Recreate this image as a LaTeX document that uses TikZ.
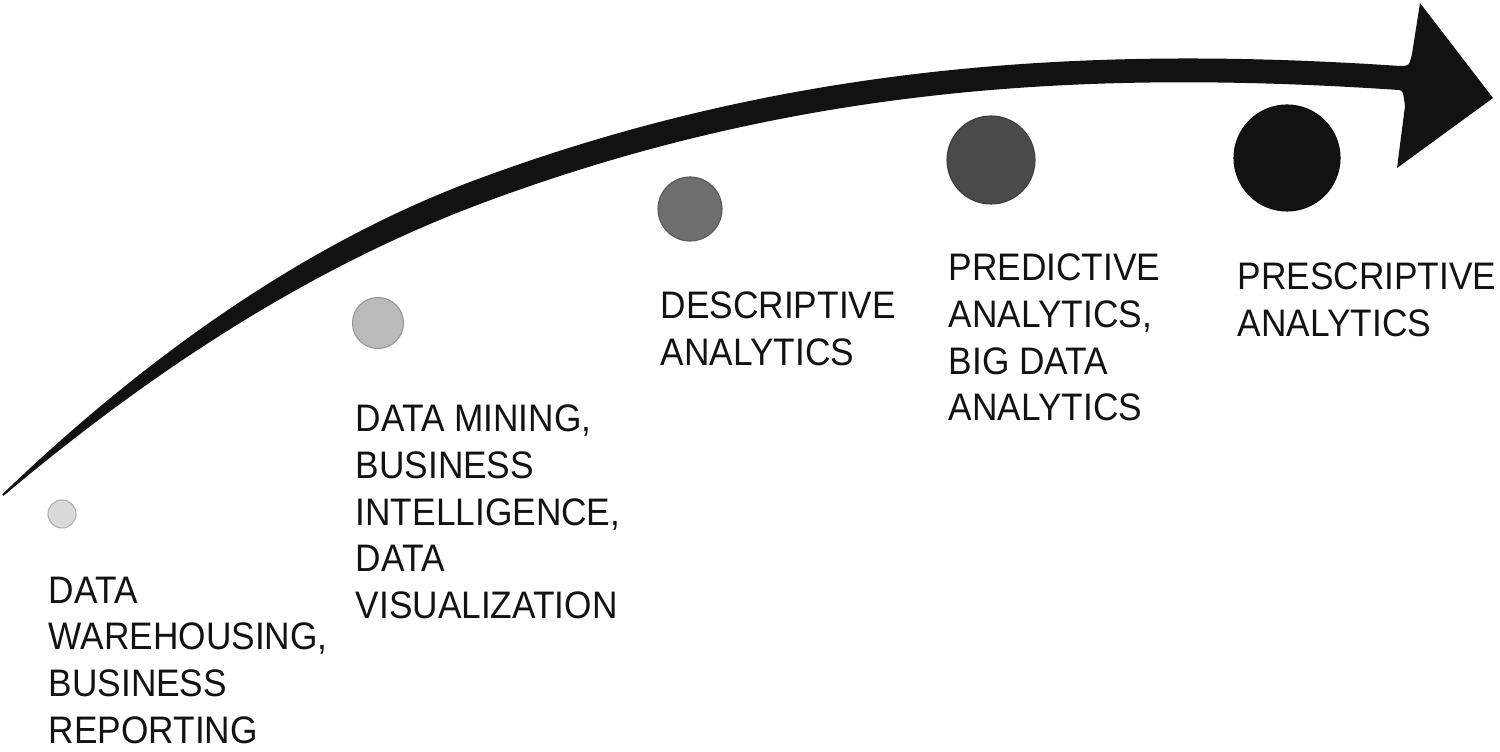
\documentclass[tikz,border=0pt]{standalone}
\usepackage{fontspec}
\setmainfont[FakeStretch=0.92]{Liberation Sans}
\colorlet{dotA}{black!15}
\colorlet{dotB}{black!27}
\colorlet{dotC}{black!57}
\colorlet{dotD}{black!71}
\colorlet{dotE}{black!93}
\begin{document}
\begin{tikzpicture}[x=0.01cm,y=-0.01cm,
    dot/.style={circle,inner sep=0pt,fill=#1,draw=#1!80!black,line width=0.3pt},
    lbl/.style={anchor=north west,inner sep=0pt,align=left,text=black!93,
      font=\fontsize{10.9}{13.3}\selectfont}]
  \useasboundingbox (0,0) rectangle (1500,752);
  \fill[black!93]
    (2.3,494.3) .. controls (157.6,345.1) and (318.8,237.7) .. (478.8,178.7)
    .. controls (798.8,60.3) and (1100.8,46) .. (1400,66)
    .. controls (1409,66) .. (1412,54) -- (1420,3) -- (1493,98) -- (1397,168)
    -- (1405,106) .. controls (1403,91) .. (1399,90)
    .. controls (1099.2,70) and (807.2,82.9) .. (487.2,201.3)
    .. controls (327.2,260.3) and (168.4,356.9) .. (3.7,495.7) -- cycle;
  \node[dot=dotA,minimum size=0.28cm] (d1) at (62,514) {};
  \node[dot=dotB,minimum size=0.51cm] (d2) at (378,323) {};
  \node[dot=dotC,minimum size=0.64cm] (d3) at (690,209) {};
  \node[dot=dotD,minimum size=0.88cm] (d4) at (991,160) {};
  \node[dot=dotE,minimum size=1.06cm] (d5) at (1287,158) {};
  \node[lbl] (l1) at (48,576) {DATA\\WAREHOUSING,\\BUSINESS\\REPORTING};
  \node[lbl] (l2) at (355,404) {DATA MINING,\\BUSINESS\\INTELLIGENCE,\\DATA\\VISUALIZATION};
  \node[lbl] (l3) at (660,291) {DESCRIPTIVE\\ANALYTICS};
  \node[lbl] (l4) at (948,253) {PREDICTIVE\\ANALYTICS,\\BIG DATA\\ANALYTICS};
  \node[lbl] (l5) at (1237,262) {PRESCRIPTIVE\\ANALYTICS};
\end{tikzpicture}
\end{document}
